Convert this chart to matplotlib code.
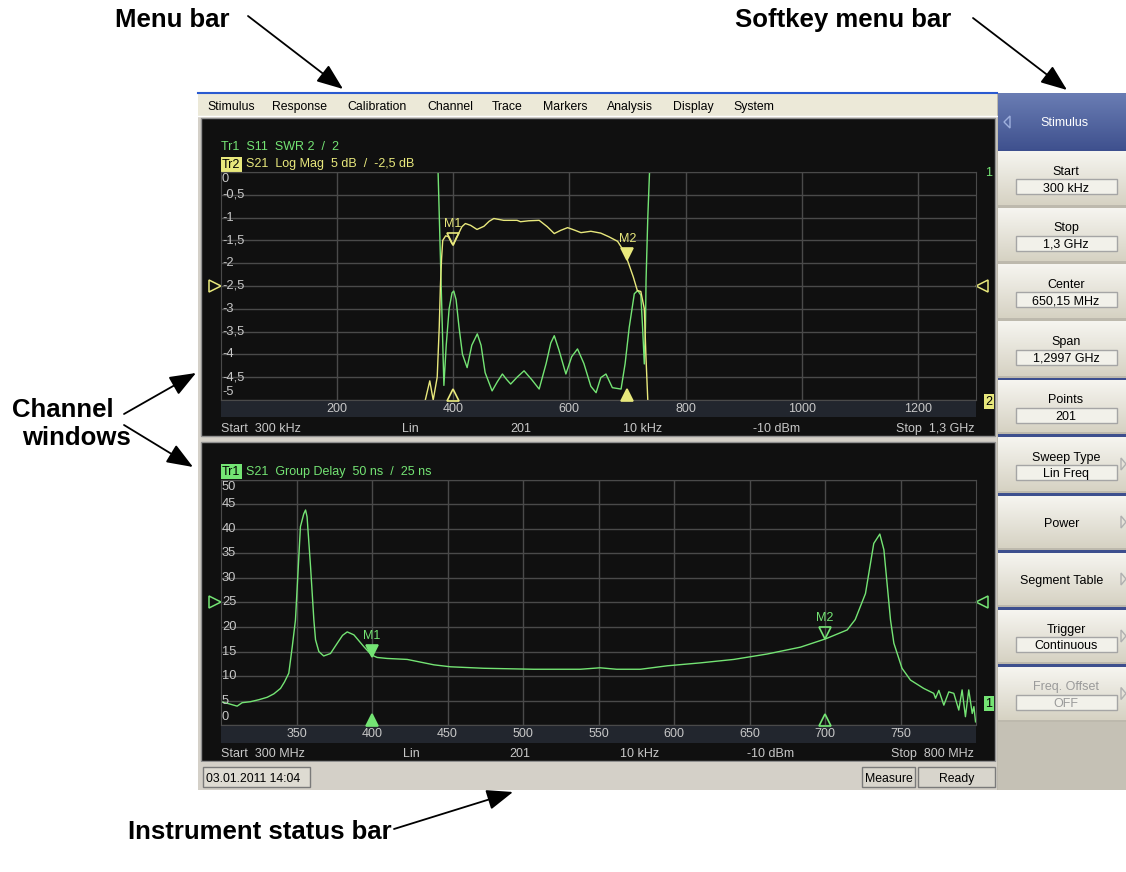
import numpy as np
import matplotlib
matplotlib.use("Agg")
import matplotlib.pyplot as plt
import matplotlib.colors as mcolors
import matplotlib.transforms as mtransforms
from matplotlib.patches import Rectangle, Polygon

W, H = 1126, 872

# ---- values ----
# channel 1, Tr2 S21 log mag (dB), Tr1 S11 drawn in the same grid units
s21_freq = [352, 359.7, 365.6, 372.5, 376, 378, 380, 382, 387, 392, 397, 400, 405, 410,
            415, 421, 430, 441, 453, 462, 470, 487, 510, 516, 530, 548, 562, 574, 585,
            597, 610, 620, 637, 654, 668, 683, 692, 700, 710, 717, 723, 729, 732, 735]
s21_db = [-5.0, -4.58, -5.0, -4.5, -3.4, -2.5, -1.9, -1.5, -1.4, -1.42, -1.55, -1.606,
          -1.45, -1.33, -1.2, -1.13, -1.17, -1.26, -1.19, -1.08, -1.02, -1.06, -1.06,
          -1.09, -1.07, -1.06, -1.2, -1.35, -1.28, -1.22, -1.28, -1.33, -1.3, -1.34,
          -1.42, -1.52, -1.7, -1.934, -2.3, -2.6, -2.62, -3.0, -4.1, -5.0]
s11_freq = [374, 377, 380, 384, 388, 393, 398, 401, 405, 410, 416, 424, 432, 441.5, 448,
            455, 467, 476, 484.7, 492, 499, 510, 522, 535, 548, 560, 568, 574, 582, 594,
            604, 614, 625, 637, 646, 654, 663, 674, 689, 696, 703, 711.8, 717.6, 723,
            726, 729, 731, 732, 735, 738]
s11_val = [0.0, -1.4, -2.8, -4.68, -3.8, -3.0, -2.65, -2.61, -2.8, -3.4, -4.0, -4.29,
           -3.8, -3.55, -3.8, -4.4, -4.8, -4.6, -4.43, -4.55, -4.65, -4.5, -4.36, -4.55,
           -4.76, -4.2, -3.75, -3.59, -3.9, -4.43, -4.05, -3.88, -4.2, -4.7, -4.84, -4.51,
           -4.43, -4.73, -4.76, -4.2, -3.41, -2.67, -2.6, -2.7, -3.4, -4.21, -3.4, -2.38,
           -1.0, 0.0]
# channel 2, Tr1 S21 group delay (ns)
gd_freq = [300, 305, 310.7, 314, 319.5, 325, 330.6, 335, 339.4, 342, 344.9, 347.2, 349.3,
           352.6, 354.8, 356, 357, 359.3, 361.5, 362.6, 364.8, 368, 372.5, 377, 380.5,
           383.6, 388, 394.6, 399.7, 403.4, 410, 423.3, 441, 452, 474, 507, 538, 551,
           562, 577.8, 595.5, 617.5, 639.6, 661.7, 683.8, 700.5, 714.7, 720, 726.8,
           732.3, 736.3, 739, 743.4, 745.6, 751, 756.6, 765.4, 772, 773.2, 775.4, 778.7,
           782, 785.3, 788.6, 790.8, 793, 795.2, 797.5, 798.6, 799.7]
gd_ns = [4.8, 4.4, 3.9, 4.6, 4.8, 5.2, 5.7, 6.4, 7.5, 8.8, 10.6, 16, 21.4, 40.4, 43,
         43.8, 42.4, 32.3, 21.4, 17.4, 15, 14.1, 14.6, 16.7, 18.3, 19.0, 18.4, 16, 14.3,
         13.8, 13.6, 13.4, 12.3, 11.9, 11.6, 11.4, 11.4, 11.7, 11.4, 11.4, 12.1, 12.7,
         13.4, 14.5, 15.9, 17.6, 19.4, 21.5, 26.8, 37, 38.9, 35.7, 21.4, 16.7, 11.6, 9.2,
         7.5, 6.5, 5.5, 7.1, 4.1, 6.8, 6.5, 3.1, 7.2, 1.75, 7.2, 2.4, 3.8, 0.7]

mkr_freq = [400, 700]
mkr_s21 = [-1.606, -1.934]
mkr_gd = [13.937, 17.521]
stat_names = ["mean", "s.dev", "p-p"]
stat_vals = [-1.265, 0.203, 0.912]

top_xticks = [200, 400, 600, 800, 1000, 1200]
top_yticks = [0, -0.5, -1, -1.5, -2, -2.5, -3, -3.5, -4, -4.5, -5]
low_xticks = [350, 400, 450, 500, 550, 600, 650, 700, 750]
low_yticks = [50, 45, 40, 35, 30, 25, 20, 15, 10, 5, 0]

menu_items = ["Stimulus", "Response", "Calibration", "Channel", "Trace",
              "Markers", "Analysis", "Display", "System"]
menu_x = [207, 272, 347, 427, 492, 543, 607, 673, 733]

softkeys = [("Start", "300 kHz", 152, 205), ("Stop", "1,3 GHz", 208, 261),
            ("Center", "650,15 MHz", 264, 318), ("Span", "1,2997 GHz", 321, 376),
            ("Points", "201", 381, 432), ("Sweep Type", "Lin Freq", 437, 491),
            ("Power", None, 496, 548), ("Segment Table", None, 553, 605),
            ("Trigger", "Continuous", 610, 662), ("Freq. Offset", "OFF", 667, 720)]

GREEN = "#74e474"
YELLOW = "#e8e87c"
GRID = "#4a4a4a"
SCREEN = "#101010"
BAND = "#22262e"
LBL = "#c8c8c8"
GRAY = "#d4d0c8"
UI = "Liberation Sans"


def comma(v, nd=None):
    s = f"{v:.{nd}f}" if nd is not None else f"{v:g}"
    return s.replace(".", ",")


fig = plt.figure(figsize=(W / 100, H / 100), dpi=100)
fig.patch.set_facecolor("white")
bg = fig.add_axes([0, 0, 1, 1])
bg.set_xlim(0, W)
bg.set_ylim(H, 0)
bg.axis("off")


def rect(x0, y0, x1, y1, fc, ec="none", lw=1, z=1):
    bg.add_patch(Rectangle((x0, y0), x1 - x0, y1 - y0, fc=fc, ec=ec, lw=lw, zorder=z))


def grad(x0, y0, x1, y1, ctop, cbot, z=2):
    g = np.linspace(0, 1, 64)[:, None, None]
    a = np.array(mcolors.to_rgb(ctop))
    b = np.array(mcolors.to_rgb(cbot))
    img = a + (b - a) * g
    bg.imshow(img, extent=(x0, x1, y1, y0), aspect="auto", zorder=z, interpolation="bilinear")


def ui(x, y, s, color="black", size=9, ha="left", box=None, **kw):
    bb = None
    if box is not None:
        bb = dict(boxstyle="square,pad=0.12", fc=box, ec="none")
    bg.text(x, y, s, color=color, fontsize=size, ha=ha, va="center_baseline", family=UI,
            bbox=bb, zorder=10, **kw)


# ---- screen chrome ----
rect(198, 93, 997, 790, GRAY)
rect(198, 93, 997, 116, "#ece9d8", z=2)
bg.plot([198, 997], [93.5, 93.5], color="#2a5ad0", lw=1.5, zorder=3)
bg.plot([198, 997], [116.5, 116.5], color="white", lw=1, zorder=3)
for name, x in zip(menu_items, menu_x):
    ui(x, 105.5, name, size=8.8)

rect(201, 118, 995, 436, SCREEN, ec="#909090", z=2)
rect(201, 442, 995, 761, SCREEN, ec="#909090", z=2)

# status bar
rect(198, 762, 997, 790, GRAY, z=2)
rect(203, 767, 310, 787, "#dedbd2", ec="#7a7a7a", z=3)
ui(206, 777, "03.01.2011 14:04", size=8.8)
rect(862, 767, 915, 787, "#d8d5cc", ec="#7a7a7a", z=3)
ui(888.5, 777, "Measure", size=8.8, ha="center")
rect(918, 767, 995, 787, "#d8d5cc", ec="#7a7a7a", z=3)
ui(956.5, 777, "Ready", size=8.8, ha="center")

# softkey panel
rect(997, 93, 1126, 790, "#bdb9ad", z=2)
grad(998, 93, 1126, 149, "#6a7db4", "#40528f", z=3)
ui(1064, 122, "Stimulus", color="white", size=9, ha="center")
bg.add_patch(Polygon([[1010, 116], [1010, 128], [1004, 122]], closed=True, fc="none",
                     ec="#9fb0dd", lw=1, zorder=4))
blue_sep = [149, 378, 434, 493, 550, 607, 664]
for yb in blue_sep:
    rect(998, yb, 1126, yb + 3, "#3d4f8e", z=3)
for label, value, y0, y1 in softkeys:
    grad(998, y0, 1126, y1, "#f6f5f0", "#d6d2c3", z=3)
    disabled = label == "Freq. Offset"
    tc = "#9a9a9a" if disabled else "black"
    ym = (y0 + y1) / 2
    if value is None:
        ui(1062, ym, label, color=tc, size=9, ha="center")
    else:
        ui(1066, ym - 8, label, color=tc, size=9, ha="center")
        rect(1016, ym + 1, 1117, ym + 16, "#f2f1ea", ec="#a5a5a5", z=4)
        ui(1066, ym + 8.5, value, color=tc, size=9, ha="center")
    if label not in ("Start", "Stop", "Center", "Span", "Points"):
        bg.add_patch(Polygon([[1121, ym - 6], [1121, ym + 6], [1126, ym]], closed=True,
                             fc="none", ec="#b0b0b0", lw=1, zorder=5))
rect(998, 722, 1126, 790, "#c5c1b5", z=3)


# ---- measurement plots ----
def plot_axes(x0, y0, x1, y1):
    ax = fig.add_axes([x0 / W, 1 - y1 / H, (x1 - x0) / W, (y1 - y0) / H])
    ax.set_facecolor(SCREEN)
    ax.tick_params(length=0, labelbottom=False, labelleft=False)
    for s in ax.spines.values():
        s.set_color(GRID)
    ax.grid(True, color=GRID, lw=1)
    ax.set_zorder(5)
    return ax


def axis_labels(ax, xticks, yticks, band_y, fmt):
    bt = mtransforms.blended_transform_factory(ax.transData, bg.transData)
    for t in xticks:
        ax.text(t, band_y, str(t), transform=bt, ha="center", va="center",
                color=LBL, fontsize=9, family=UI, clip_on=False)
    lt = mtransforms.offset_copy(ax.get_yaxis_transform(), fig=fig, x=1, units="dots")
    for i, t in enumerate(yticks):
        va = "center"
        off = 0
        if i == 0:
            va, off = "top", -1
        elif i == len(yticks) - 1:
            va, off = "bottom", 2
        tr = mtransforms.offset_copy(lt, fig=fig, y=off, units="dots")
        ax.text(0, t, fmt(t), transform=tr, ha="left", va=va, color=LBL,
                fontsize=9.3, family=UI, clip_on=False)


def markers(ax, vals, color, active, bottom):
    down = mtransforms.offset_copy(ax.transData, fig=fig, y=6, units="dots")
    up = mtransforms.offset_copy(ax.transData, fig=fig, y=5, units="dots")
    for i, (f, v) in enumerate(zip(mkr_freq, vals)):
        fc = color if i == active else "none"
        ax.plot([f], [v], marker="v", ms=9, mfc=fc, mec=color, mew=1.2,
                transform=down, clip_on=False, zorder=6)
        ax.annotate(f"M{i + 1}", (f, v), xytext=(0, 21), textcoords="offset pixels",
                    ha="center", va="center", color=color, fontsize=9, family=UI)
        ax.plot([f], [bottom], marker="^", ms=9, mfc=fc, mec=color, mew=1.2,
                transform=up, clip_on=False, zorder=6)


def ref_marks(ax, yref, color):
    tr = ax.get_yaxis_transform()
    lt = mtransforms.offset_copy(tr, fig=fig, x=-6, units="dots")
    rt = mtransforms.offset_copy(tr, fig=fig, x=6, units="dots")
    ax.plot([0], [yref], marker=">", ms=9, mfc="none", mec=color, mew=1.1,
            transform=lt, clip_on=False)
    ax.plot([1], [yref], marker="<", ms=9, mfc="none", mec=color, mew=1.1,
            transform=rt, clip_on=False)


# channel 1
ax1 = plot_axes(221, 172, 976, 400)
ax1.set_xlim(0.3, 1300)
ax1.set_ylim(-5, 0)
ax1.set_xticks(top_xticks)
ax1.set_yticks(top_yticks)
ax1.plot(s11_freq, s11_val, color=GREEN, lw=1)
ax1.plot(s21_freq, s21_db, color=YELLOW, lw=1)
rect(221, 400, 976, 417, BAND, z=3)
axis_labels(ax1, top_xticks, top_yticks, 408.5, comma)
markers(ax1, mkr_s21, YELLOW, 1, -5)
ref_marks(ax1, -2.5, YELLOW)

ui(221, 145, "Tr1  S11  SWR 2  /  2", color=GREEN)
ui(222, 163, "Tr2", box=YELLOW)
ui(246, 163, "S21  Log Mag  5 dB  /  -2,5 dB", color=YELLOW)
ui(985, 172, "1", color=GREEN)
ui(985, 400, "2", box=YELLOW)

ui(698, 195, f"M1 {comma(mkr_freq[0], 3)} MHz {comma(mkr_s21[0], 3)}dB", color=YELLOW)
ui(698, 212, "M2", box=YELLOW)
ui(718, 212, f"{comma(mkr_freq[1], 3)} MHz {comma(mkr_s21[1], 3)}dB", color=YELLOW)
for k, (nm, v) in enumerate(zip(stat_names, stat_vals)):
    ui(698, 229 + 17 * k, f"{nm} {comma(v, 3)} dB", color=YELLOW)

status1 = [(221, "Start  300 kHz", "left"), (402, "Lin", "left"), (510, "201", "left"),
           (623, "10 kHz", "left"), (753, "-10 dBm", "left"), (974, "Stop  1,3 GHz", "right")]
for x, s, ha in status1:
    ui(x, 427, s, color=LBL, ha=ha)

# channel 2
ax2 = plot_axes(221, 479.5, 976, 725.3)
ax2.set_xlim(300, 800)
ax2.set_ylim(0, 50)
ax2.set_xticks(low_xticks)
ax2.set_yticks(low_yticks)
ax2.plot(gd_freq, gd_ns, color=GREEN, lw=1)
rect(221, 725.3, 976, 742.5, BAND, z=3)
axis_labels(ax2, low_xticks, low_yticks, 734, lambda v: str(v))
markers(ax2, mkr_gd, GREEN, 0, 0)
ref_marks(ax2, 25, GREEN)

ui(222, 470, "Tr1", box=GREEN)
ui(246, 470, "S21  Group Delay  50 ns  /  25 ns", color=GREEN)
ui(985, 702, "1", box=GREEN)
ui(599, 488, "M1", box=GREEN)
ui(617, 488, f"{comma(mkr_freq[0], 3)} MHz {comma(mkr_gd[0], 3)}ns", color=GREEN)
ui(598, 505, f"M2 {comma(mkr_freq[1], 3)} MHz {comma(mkr_gd[1], 3)}ns", color=GREEN)

status2 = [(221, "Start  300 MHz", "left"), (403, "Lin", "left"), (509, "201", "left"),
           (620, "10 kHz", "left"), (747, "-10 dBm", "left"), (974, "Stop  800 MHz", "right")]
for x, s, ha in status2:
    ui(x, 752, s, color=LBL, ha=ha)

# ---- callout labels ----
arw = dict(arrowstyle="-|>,head_length=0.9,head_width=0.35", color="black", lw=1.3,
           mutation_scale=18, shrinkA=0, shrinkB=0)
big = dict(fontsize=18.5, fontweight="bold", family=UI, va="center", zorder=10)
bg.text(115, 20, "Menu bar", **big)
bg.annotate("", xy=(343, 89), xytext=(248, 16), arrowprops=arw)
bg.text(735, 20, "Softkey menu bar", **big)
bg.annotate("", xy=(1067, 90), xytext=(973, 18), arrowprops=arw)
bg.text(12, 410, "Channel", **big)
bg.text(22, 438, "windows", **big)
bg.annotate("", xy=(196, 373), xytext=(124, 414), arrowprops=arw)
bg.annotate("", xy=(193, 467), xytext=(124, 425), arrowprops=arw)
bg.text(128, 832, "Instrument status bar", **big)
bg.annotate("", xy=(513, 792), xytext=(394, 829), arrowprops=arw)

bg.set_xlim(0, W)
bg.set_ylim(H, 0)
fig.savefig("out.png", dpi=100)
